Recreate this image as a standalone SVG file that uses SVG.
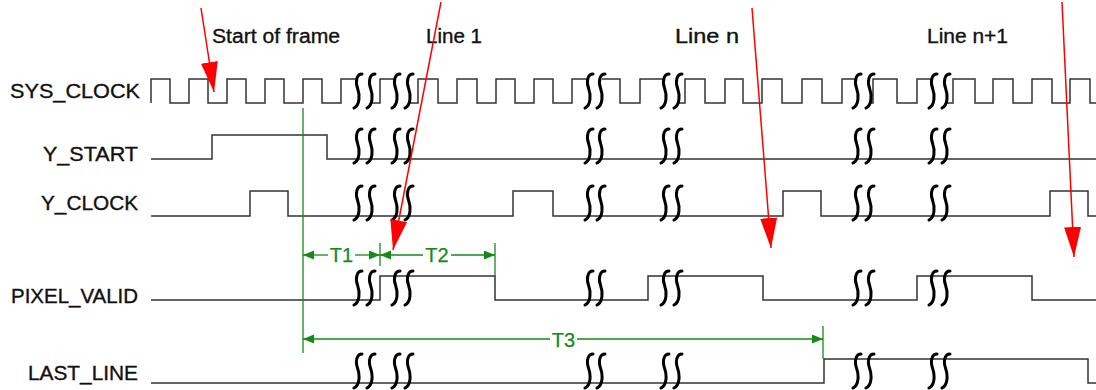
<svg xmlns="http://www.w3.org/2000/svg" xmlns:xlink="http://www.w3.org/1999/xlink" width="1096" height="390" viewBox="0 0 1096 390">
<style>
.lbl{font-family:"Liberation Sans",Arial,sans-serif;font-size:20px;fill:#111;stroke:#111;stroke-width:0.35}
.wave{fill:none;stroke:#333;stroke-width:1.5}
.brk{fill:none;stroke:#000;stroke-width:3;stroke-linecap:round}
.red{stroke:#ff0000;stroke-width:1.5;fill:none}
.grn{stroke:#168a16;stroke-width:1.3;fill:none}
.gtxt{font-family:"Liberation Sans",Arial,sans-serif;font-size:20px;fill:#168a16;stroke:#168a16;stroke-width:0.25}
</style>
<defs>
<path id="sq" class="brk" d="M4,-17 C-1,-17 -3,-10 -0.5,-3 C2,4 2,14 -4,17"/>
<marker id="ra" markerUnits="userSpaceOnUse" markerWidth="32" markerHeight="18" refX="30" refY="8.5" orient="auto">
<path d="M0,0 L30,8.5 L0,17 z" fill="#ff0000"/>
</marker>
<marker id="ga" markerUnits="userSpaceOnUse" markerWidth="12" markerHeight="10" refX="11" refY="4.5" orient="auto-start-reverse">
<path d="M0,0 L11,4.5 L0,9 z" fill="#168a16"/>
</marker>
</defs>
<rect width="1096" height="390" fill="#fff"/>

<g id="titles">
<text class="lbl" x="212" y="43" textLength="128" lengthAdjust="spacingAndGlyphs">Start of frame</text>
<text class="lbl" x="426" y="43" textLength="56" lengthAdjust="spacingAndGlyphs">Line 1</text>
<text class="lbl" x="675" y="43" textLength="64" lengthAdjust="spacingAndGlyphs">Line n</text>
<text class="lbl" x="927" y="43" textLength="81" lengthAdjust="spacingAndGlyphs">Line n+1</text>
</g>

<g id="sys_clock">
<text class="lbl" x="140" y="98" text-anchor="end" textLength="130" lengthAdjust="spacingAndGlyphs">SYS_CLOCK</text>
<path class="wave" d="M151,103 V79 H170 V103 H189 V79 H208 V103 H227 V79 H246 V103 H265 V79 H284 V103 H303 V79 H322 V103 H341 V79 H357"/>
<path class="wave" d="M372,103 H380 V79 H396"/>
<path class="wave" d="M410,103 H418 V79 H438 V103 H457 V79 H477 V103 H496 V79 H515 V103 H534 V79 H553 V103 H572 V79 H588"/>
<path class="wave" d="M602,79 H620 V103 H640 V79 H664"/>
<path class="wave" d="M679,103 H685 V79 H705 V103 H725 V79 H743 V103 H762 V79 H782 V103 H802 V79 H822 V103 H842 V79 H856"/>
<path class="wave" d="M871,103 H873 V79 H897 V103 H917 V79 H932"/>
<path class="wave" d="M947,103 H953 V79 H975 V103 H993 V79 H1013 V103 H1032 V79 H1052 V103 H1070 V79 H1090 V103 H1096"/>
<g transform="translate(0,91)">
<use href="#sq" x="358"/><use href="#sq" x="371"/><use href="#sq" x="396"/><use href="#sq" x="409"/>
<use href="#sq" x="589"/><use href="#sq" x="601"/><use href="#sq" x="665"/><use href="#sq" x="678"/>
<use href="#sq" x="857"/><use href="#sq" x="870"/><use href="#sq" x="933"/><use href="#sq" x="946"/>
</g>
</g>

<g id="y_start">
<text class="lbl" x="138" y="161" text-anchor="end" textLength="95" lengthAdjust="spacingAndGlyphs">Y_START</text>
<path class="wave" d="M151,159 H212 V135 H327 V159 H1096"/>
<g transform="translate(0,146)">
<use href="#sq" x="358"/><use href="#sq" x="371"/><use href="#sq" x="396"/><use href="#sq" x="409"/>
<use href="#sq" x="589"/><use href="#sq" x="601"/><use href="#sq" x="665"/><use href="#sq" x="678"/>
<use href="#sq" x="857"/><use href="#sq" x="870"/><use href="#sq" x="933"/><use href="#sq" x="946"/>
</g>
</g>

<g id="y_clock">
<text class="lbl" x="138" y="210" text-anchor="end" textLength="97" lengthAdjust="spacingAndGlyphs">Y_CLOCK</text>
<path class="wave" d="M151,216 H250 V191 H288 V216 H513 V191 H553 V216 H783 V191 H821 V216 H1050 V191 H1088 V216 H1096"/>
<g transform="translate(0,203)">
<use href="#sq" x="358"/><use href="#sq" x="371"/><use href="#sq" x="396"/><use href="#sq" x="409"/>
<use href="#sq" x="589"/><use href="#sq" x="601"/><use href="#sq" x="665"/><use href="#sq" x="678"/>
<use href="#sq" x="857"/><use href="#sq" x="870"/><use href="#sq" x="933"/><use href="#sq" x="946"/>
</g>
</g>

<g id="pixel_valid">
<text class="lbl" x="138" y="303" text-anchor="end" textLength="127" lengthAdjust="spacingAndGlyphs">PIXEL_VALID</text>
<path class="wave" d="M151,300 H380 V276 H495 V300 H648 V276 H763 V300 H917 V276 H1032 V300 H1096"/>
<g transform="translate(0,288)">
<use href="#sq" x="358"/><use href="#sq" x="371"/><use href="#sq" x="396"/><use href="#sq" x="409"/>
<use href="#sq" x="589"/><use href="#sq" x="601"/><use href="#sq" x="665"/><use href="#sq" x="678"/>
<use href="#sq" x="857"/><use href="#sq" x="870"/><use href="#sq" x="933"/><use href="#sq" x="946"/>
</g>
</g>

<g id="last_line">
<text class="lbl" x="138" y="380" text-anchor="end" textLength="110" lengthAdjust="spacingAndGlyphs">LAST_LINE</text>
<path class="wave" d="M151,383 H824 V359 H1088 V383 H1096"/>
<g transform="translate(0,371)">
<use href="#sq" x="358"/><use href="#sq" x="371"/><use href="#sq" x="396"/><use href="#sq" x="409"/>
<use href="#sq" x="589"/><use href="#sq" x="601"/><use href="#sq" x="665"/><use href="#sq" x="678"/>
<use href="#sq" x="857"/><use href="#sq" x="870"/><use href="#sq" x="933"/><use href="#sq" x="946"/>
</g>
</g>

<g id="connectors">
<g id="timings">
<line class="grn" x1="303" y1="108" x2="303" y2="353"/>
<line class="grn" x1="380" y1="243" x2="380" y2="266"/>
<line class="grn" x1="495" y1="243" x2="495" y2="276"/>
<line class="grn" x1="823" y1="326" x2="823" y2="359"/>
<line class="grn" x1="303" y1="255" x2="328" y2="255" marker-start="url(#ga)"/>
<line class="grn" x1="355" y1="255" x2="380" y2="255" marker-end="url(#ga)"/>
<text class="gtxt" x="341.5" y="262" text-anchor="middle">T1</text>
<line class="grn" x1="380" y1="255" x2="423" y2="255" marker-start="url(#ga)"/>
<line class="grn" x1="451" y1="255" x2="495" y2="255" marker-end="url(#ga)"/>
<text class="gtxt" x="437" y="262" text-anchor="middle">T2</text>
<line class="grn" x1="303" y1="339" x2="550" y2="339" marker-start="url(#ga)"/>
<line class="grn" x1="577" y1="339" x2="823" y2="339" marker-end="url(#ga)"/>
<text class="gtxt" x="563.5" y="347" text-anchor="middle">T3</text>
</g>
<g id="pointers">
<line class="red" x1="201" y1="8" x2="214" y2="92" marker-end="url(#ra)"/>
<line class="red" x1="441" y1="2" x2="393" y2="250" marker-end="url(#ra)"/>
<line class="red" x1="752" y1="8" x2="771" y2="248" marker-end="url(#ra)"/>
<line class="red" x1="1062" y1="2" x2="1074" y2="257" marker-end="url(#ra)"/>
</g>
</g>
</svg>
